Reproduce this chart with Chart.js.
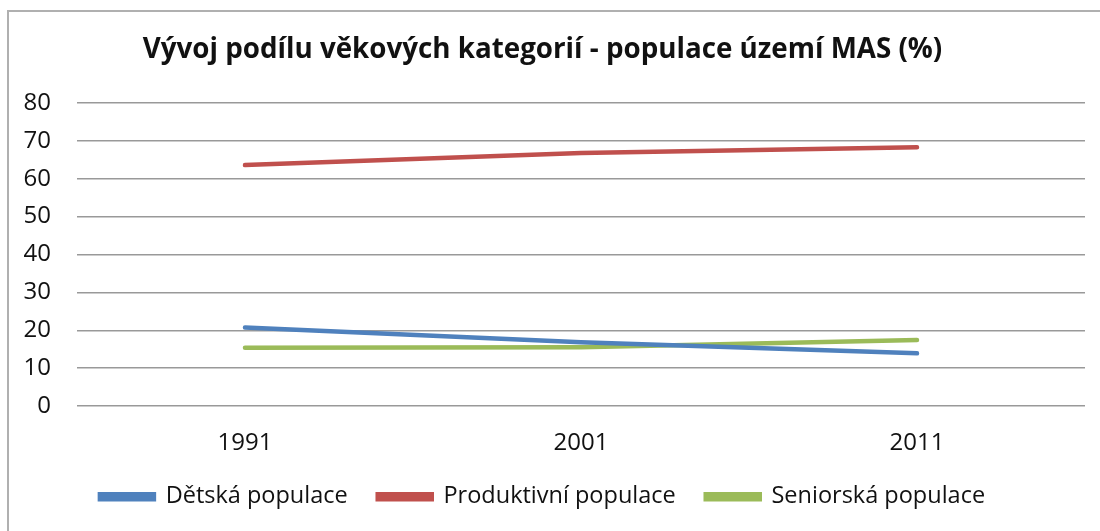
<!DOCTYPE html>
<html>
<head>
<meta charset="utf-8">
<script src="https://cdn.jsdelivr.net/npm/chart.js@4"></script>
<style>
  html, body { margin: 0; padding: 0; background: #fff; }
  #wrap { position: relative; width: 1100px; height: 531px; overflow: hidden; }
  #frame { position: absolute; left: 7px; top: 10px; width: 1200px; height: 600px;
           border: 2px solid #b0b0b0; box-sizing: border-box; pointer-events: none; }
  canvas { position: absolute; left: 0; top: 0; }
</style>
</head>
<body>
<div id="wrap">
  <canvas id="linechart" width="1100" height="531"></canvas>
  <div id="frame"></div>
</div>
<script>
var years = ['1991', '2001', '2011'];
var detska = [20.7, 16.8, 13.9];
var produktivni = [63.6, 66.8, 68.3];
var seniorska = [15.4, 15.5, 17.4];
var yTicks = [0, 10, 20, 30, 40, 50, 60, 70, 80];

var font = "'Open Sans', sans-serif";

function series(label, data, color) {
    return {
        label: label,
        data: data,
        borderColor: color,
        backgroundColor: color,
        borderWidth: 4.5,
        borderCapStyle: 'round',
        pointRadius: 0,
        pointHoverRadius: 0,
        tension: 0,
        fill: false
    };
}

var chartdata = {
    labels: years,
    datasets: [
        series('Dětská populace', detska, '#4f81bd'),
        series('Produktivní populace', produktivni, '#c0504d'),
        series('Seniorská populace', seniorska, '#9bbb59')
    ]
};

var context = document.getElementById('linechart');
var lineChart = new Chart(context, {
    type: 'line',
    data: chartdata,
    options: {
        responsive: false,
        animation: false,
        layout: { padding: { left: 0, right: 15, top: 0, bottom: 12.5 } },
        plugins: {
            title: {
                display: true,
                text: 'Vývoj podílu věkových kategorií - populace území MAS (%)',
                color: '#111',
                font: { family: font, size: 27.75, weight: 'bold' },
                padding: { top: 33, bottom: 36.7 }
            },
            legend: {
                position: 'bottom',
                labels: {
                    color: '#111',
                    font: { family: font, size: 23.5 },
                    boxWidth: 54,
                    boxHeight: 5,
                    padding: 30
                }
            },
            tooltip: { enabled: false }
        },
        scales: {
            x: {
                offset: true,
                afterFit: function (scale) { scale.height = 49; },
                grid: { display: false, drawTicks: false },
                border: { display: false },
                ticks: { color: '#111', font: { family: font, size: 24 }, padding: 23 }
            },
            y: {
                min: 0,
                max: 80,
                afterFit: function (scale) { scale.width = 77; },
                afterBuildTicks: function (scale) {
                    scale.ticks = yTicks.map(function (v) { return { value: v }; });
                },
                grid: { color: '#999', lineWidth: 1.5, drawTicks: false },
                border: { display: false },
                ticks: { color: '#111', font: { family: font, size: 24 }, padding: 26 }
            }
        }
    }
});
</script>
</body>
</html>
